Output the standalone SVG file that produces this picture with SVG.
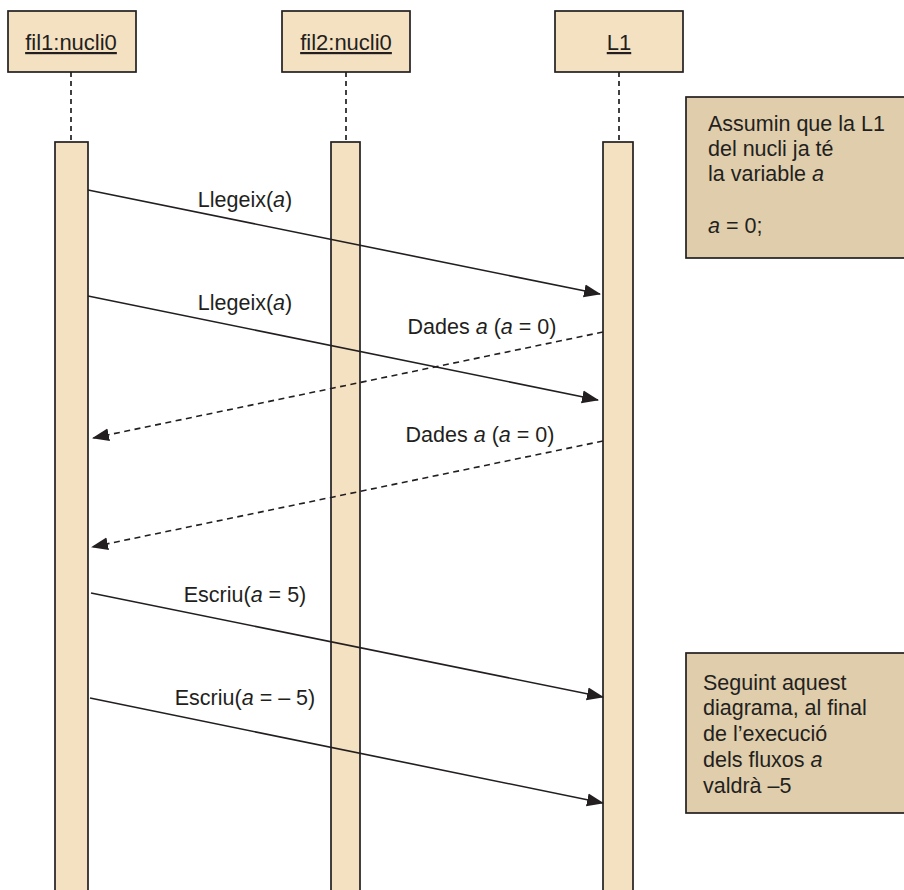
<svg xmlns="http://www.w3.org/2000/svg" width="904" height="890" viewBox="0 0 904 890">
  <style>
    text { font-family: "Liberation Sans", Arial, sans-serif; font-size: 21.5px; fill: #231f20; }
    .head { fill: #f4e1c1; stroke: #231f20; stroke-width: 1.7; }
    .bar { fill: #f4e1c1; stroke: #231f20; stroke-width: 1.7; }
    .note { fill: #dfcdab; stroke: #231f20; stroke-width: 1.7; }
    .life { stroke: #231f20; stroke-width: 1.7; stroke-dasharray: 5 4; fill: none; }
    .msg { stroke: #231f20; stroke-width: 1.6; fill: none; marker-end: url(#arrow); }
    .ret { stroke: #231f20; stroke-width: 1.6; fill: none; stroke-dasharray: 6 4.5; marker-end: url(#arrow); }
    .title { text-anchor: middle; text-decoration: underline; font-size: 22px; }
    .lbl { text-anchor: middle; }
    .it { font-style: italic; }
  </style>
  <defs>
    <marker id="arrow" markerUnits="userSpaceOnUse" markerWidth="18" markerHeight="14" refX="16" refY="7" orient="auto">
      <path d="M0,0.5 L17,7 L0,13.5 Z" fill="#231f20"/>
    </marker>
  </defs>
  <rect width="904" height="890" fill="#ffffff"/>

  <!-- lifelines -->
  <g id="fil1">
    <rect class="head" x="8" y="11" width="128" height="61"/>
    <text class="title" x="71" y="50">fil1:nucli0</text>
    <line class="life" x1="71" y1="72" x2="71" y2="142"/>
    <rect class="bar" x="55" y="142" width="33" height="760"/>
  </g>
  <g id="fil2">
    <rect class="head" x="282" y="11" width="128" height="61"/>
    <text class="title" x="346" y="50">fil2:nucli0</text>
    <line class="life" x1="346" y1="72" x2="346" y2="142"/>
    <rect class="bar" x="331" y="142" width="29" height="760"/>
  </g>
  <g id="L1">
    <rect class="head" x="555" y="11" width="128" height="61"/>
    <text class="title" x="619" y="50">L1</text>
    <line class="life" x1="619" y1="72" x2="619" y2="142"/>
    <rect class="bar" x="603" y="142" width="30" height="760"/>
  </g>

  <!-- notes -->
  <g id="note1">
    <rect class="note" x="686" y="97" width="230" height="161"/>
    <text x="708" y="131">Assumin que la L1</text>
    <text x="708" y="156">del nucli ja té</text>
    <text x="708" y="181">la variable <tspan class="it">a</tspan></text>
    <text x="708" y="233"><tspan class="it">a</tspan> = 0;</text>
  </g>
  <g id="note2">
    <rect class="note" x="686" y="653" width="230" height="160"/>
    <text x="703" y="690">Seguint aquest</text>
    <text x="703" y="715">diagrama, al final</text>
    <text x="703" y="741">de l’execució</text>
    <text x="703" y="767">dels fluxos <tspan class="it">a</tspan></text>
    <text x="703" y="793">valdrà –5</text>
  </g>

  <!-- messages -->
  <g id="connectors">
    <line class="msg" x1="88" y1="190" x2="600" y2="294"/>
    <line class="msg" x1="88" y1="296" x2="598" y2="400"/>
    <line class="ret" x1="603" y1="332" x2="93" y2="438"/>
    <line class="ret" x1="603" y1="441" x2="92" y2="547"/>
    <line class="msg" x1="91" y1="593" x2="603" y2="697"/>
    <line class="msg" x1="90" y1="698" x2="603" y2="803"/>
  </g>

  <g id="labels">
    <text class="lbl" x="245" y="207">Llegeix(<tspan class="it">a</tspan>)</text>
    <text class="lbl" x="245" y="310">Llegeix(<tspan class="it">a</tspan>)</text>
    <text class="lbl" x="482" y="334">Dades <tspan class="it">a</tspan> (<tspan class="it">a</tspan> = 0)</text>
    <text class="lbl" x="480" y="442">Dades <tspan class="it">a</tspan> (<tspan class="it">a</tspan> = 0)</text>
    <text class="lbl" x="245" y="602">Escriu(<tspan class="it">a</tspan> = 5)</text>
    <text class="lbl" x="245" y="705">Escriu(<tspan class="it">a</tspan> = – 5)</text>
  </g>
</svg>
